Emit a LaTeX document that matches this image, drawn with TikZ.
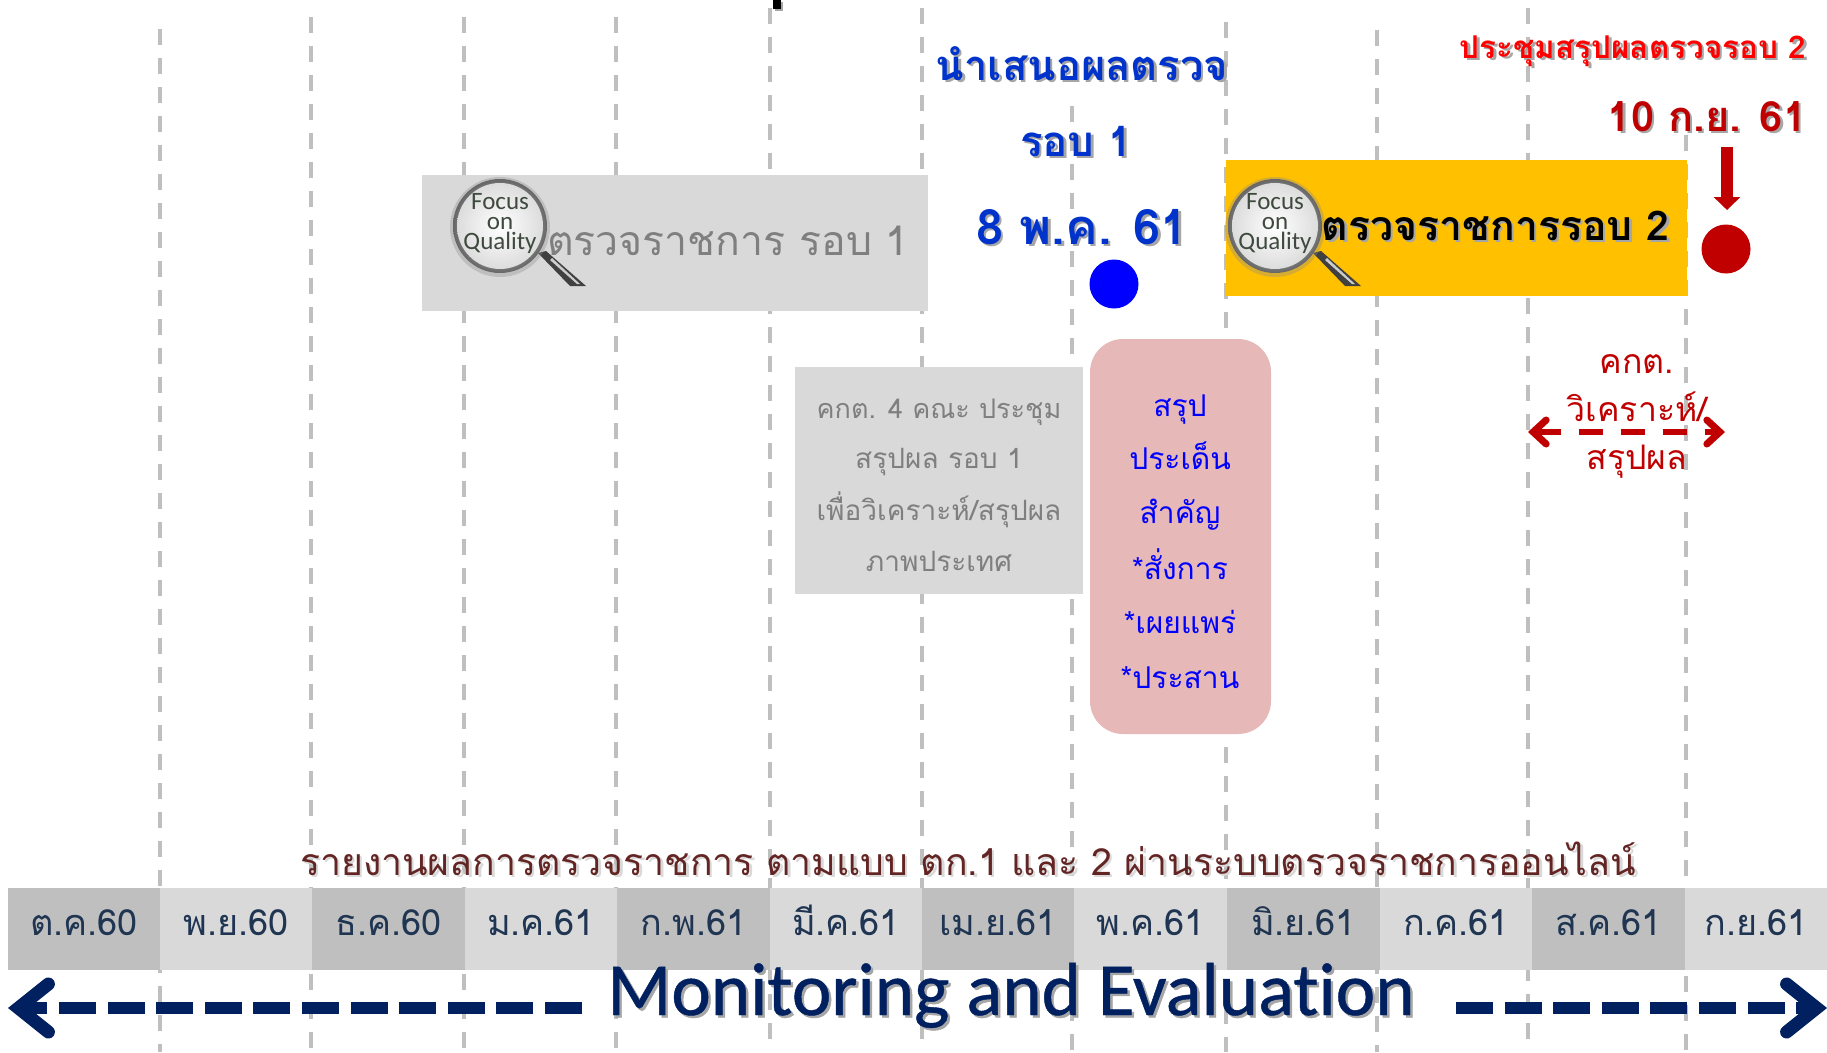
\documentclass[tikz,border=0pt]{standalone}
\usepackage{fontspec}
\usetikzlibrary{arrows.meta,shadings}
\newfontfamily\thaifont[Script=Thai]{Loma}
\newfontfamily\latinfont[Ligatures=NoCommon,FakeBold=0.6]{Carlito}
\newfontfamily\lensfont{Carlito}
\newcommand{\tsize}[1]{\thaifont\fontsize{#1}{#1}\selectfont}
\newcommand{\softshadow}[2][black!35]{\leavevmode\rlap{\kern2.5pt\raisebox{-2.5pt}{\textcolor{#1}{#2}}}#2}
\definecolor{bandDark}{HTML}{BFBFBF}
\definecolor{bandLight}{HTML}{D9D9D9}
\definecolor{boxGold}{HTML}{FFC000}
\definecolor{boxPink}{HTML}{E6B8B7}
\definecolor{deepRed}{HTML}{C00000}
\definecolor{titleBlue}{HTML}{0033CC}
\definecolor{navy}{HTML}{002060}
\definecolor{monthInk}{HTML}{1F3552}
\definecolor{reportBrown}{HTML}{632523}
\definecolor{boxInk}{HTML}{7F7F7F}
\definecolor{lensInk}{HTML}{3F4A3F}
\tikzset{
    gridline/.style={draw=bandDark, line width=4.5pt, dash pattern=on 16pt off 13pt},
    monthdark/.style={fill=bandDark, text=monthInk, minimum height=82pt, inner sep=0pt, text height=13pt, text depth=0pt, font=\tsize{36}},
    monthlight/.style={monthdark, fill=bandLight},
    dot/.style={circle, inner sep=0pt, minimum size=49pt},
    linetext/.style={inner sep=0pt, anchor=base},
    notetext/.style={linetext, text=boxInk, font=\tsize{28}},
    pinktext/.style={linetext, text=blue, font=\tsize{30}},
    redtext/.style={linetext, text=deepRed, font=\tsize{33.8}},
    navyarrow/.style={draw=navy, line width=12pt, dash pattern=on 37pt off 11.6pt,
        -{Straight Barb[length=30pt,width=48pt,line cap=round,line width=13pt]}},
    redarrow/.style={draw=deepRed, line width=6pt, dash pattern=on 24pt off 18pt,
        {Straight Barb[length=13pt,width=24pt,line cap=round,line width=7pt]}-{Straight Barb[length=13pt,width=24pt,line cap=round,line width=7pt]}},
    focuslens/.pic={
        \fill[black!75] (38,27) -- (46,25) -- (86,60) -- (70,60) -- cycle;
        \fill[black!20] (50,34) -- (52,32) -- (80,58) -- (77,58) -- cycle;
        \fill[black!45, opacity=0.35] (0,1) circle[radius=50];
        \shade[inner color=white, outer color=black!60] (0,0) circle[radius=47];
        \shade[inner color=white, outer color=green!4!black!14] (0,0) circle[radius=43];
        \node[inner sep=0pt, align=center, text=lensInk, font=\lensfont\fontsize{25}{20}\selectfont] (-label) at (0,-3) {Focus\\on\\Quality};
    }
}
\begin{document}
\begin{tikzpicture}[x=1pt, y=-1pt]
    \useasboundingbox (0,0) rectangle (1827,1052);
    % month guides
    \draw[gridline] (160,29) -- (160,1052);
    \draw[gridline] (311,17) -- (311,1052);
    \draw[gridline] (464,17) -- (464,1052);
    \draw[gridline] (616,17) -- (616,1052);
    \draw[gridline] (770,8) -- (770,1052);
    \draw[gridline] (922,8) -- (922,1052);
    \draw[gridline] (1072,106) -- (1072,1052);
    \draw[gridline] (1226,22) -- (1226,1052);
    \draw[gridline] (1377,30) -- (1377,1052);
    \draw[gridline] (1528,8) -- (1528,1052);
    \draw[gridline] (1686,135) -- (1686,1052);
    \fill[black!35] (775,2) rectangle (783,11);
    \fill[black] (773,0) rectangle (781,9);

    % month band
    \node[monthdark, minimum width=152pt] (oct) at (84,929) {ต.ค.60};
    \node[monthlight, minimum width=152pt] (nov) at (236,929) {พ.ย.60};
    \node[monthdark, minimum width=153pt] (dec) at (388.5,929) {ธ.ค.60};
    \node[monthlight, minimum width=152pt] (jan) at (541,929) {ม.ค.61};
    \node[monthdark, minimum width=153pt] (feb) at (693.5,929) {ก.พ.61};
    \node[monthlight, minimum width=152pt] (mar) at (846,929) {มี.ค.61};
    \node[monthdark, minimum width=152pt] (apr) at (998,929) {เม.ย.61};
    \node[monthlight, minimum width=153pt] (may) at (1150.5,929) {พ.ค.61};
    \node[monthdark, minimum width=153pt] (jun) at (1303.5,929) {มิ.ย.61};
    \node[monthlight, minimum width=152pt] (jul) at (1456,929) {ก.ค.61};
    \node[monthdark, minimum width=153pt] (aug) at (1608.5,929) {ส.ค.61};
    \node[monthlight, minimum width=142pt] (sep) at (1756,929) {ก.ย.61};

    % round one
    \node[fill=bandLight, minimum width=506pt, minimum height=136pt, inner sep=0pt] (roundone) at (675,243) {};
    \pic (lensone) at (500,226) {focuslens};
    \node[linetext, text=boxInk, font=\tsize{41}] (roundonetext) at (728,255) {ตรวจราชการ รอบ 1};
    \node[linetext, text=titleBlue, font=\bfseries\tsize{41.7}] (present) at (1082,80) {\softshadow{นำเสนอผลตรวจ}};
    \node[linetext, text=titleBlue, font=\bfseries\tsize{42}] (presentround) at (1076,156) {\softshadow{รอบ 1}};
    \node[linetext, text=titleBlue, font=\bfseries\tsize{48.8}] (presentdate) at (1082,244) {\softshadow{8 พ.ค. 61}};
    \node[dot, fill=blue] (bluedot) at (1114,284) {};
    \node[fill=bandLight, minimum width=288pt, minimum height=227pt, inner sep=0pt] (notebox) at (939,480.5) {};
    \node[notetext, font=\tsize{27}] (noteone) at (939,418) {คกต. 4 คณะ ประชุม};
    \node[notetext] (notetwo) at (939,468) {สรุปผล รอบ 1};
    \node[notetext] (notethree) at (939,520) {เพื่อวิเคราะห์/สรุปผล};
    \node[notetext] (notefour) at (939,571) {ภาพประเทศ};
    \node[fill=boxPink, rounded corners=33pt, minimum width=181pt, minimum height=395pt, inner sep=0pt] (pinkbox) at (1180.5,536.5) {};
    \node[pinktext] (pinkone) at (1180,416) {สรุป};
    \node[pinktext] (pinktwo) at (1180,469) {ประเด็น};
    \node[pinktext] (pinkthree) at (1180,523) {สำคัญ};
    \node[pinktext] (pinkfour) at (1180,579) {*สั่งการ};
    \node[pinktext] (pinkfive) at (1180,633) {*เผยแพร่};
    \node[pinktext] (pinksix) at (1180,688) {*ประสาน};

    % round two
    \node[fill=boxGold, minimum width=461pt, minimum height=136pt, inner sep=0pt] (roundtwo) at (1456.5,228) {};
    \pic (lenstwo) at (1275,226) {focuslens};
    \node[linetext, text=black, font=\bfseries\tsize{41}] (roundtwotext) at (1495.5,240) {\softshadow{ตรวจราชการรอบ 2}};
    \node[linetext, text=red, font=\bfseries\tsize{31.4}] (meeting) at (1633,58) {\softshadow{ประชุมสรุปผลตรวจรอบ 2}};
    \node[linetext, text=deepRed, font=\bfseries\tsize{41.7}] (meetingdate) at (1707,131) {\softshadow{10 ก.ย. 61}};
    \coordinate (dropstart) at (1727,147);
    \node[dot, fill=deepRed] (reddot) at (1726,249) {};
    \coordinate (dropend) at (1727,210);
    \draw[draw=deepRed, line width=12pt, -{Triangle[length=13pt,width=26pt]}] (dropstart) -- (dropend);
    \node[redtext] (redone) at (1637,373) {คกต.};
    \node[redtext] (redtwo) at (1637,421) {วิเคราะห์/};
    \node[redtext] (redthree) at (1637,469) {สรุปผล};
    \coordinate (spanleft) at (1528,432);
    \coordinate (spanright) at (1725,432);
    \draw[redarrow] (spanleft) -- (spanright);

    % report line and bottom band
    \node[linetext, text=reportBrown, font=\tsize{37.4}] (report) at (968,875) {\softshadow[black!15]{รายงานผลการตรวจราชการ ตามแบบ ตก.1 และ 2 ผ่านระบบตรวจราชการออนไลน์}};
    \node[linetext, text=navy, font=\latinfont\fontsize{75}{75}\selectfont] (monitor) at (1011,1015) {\softshadow{Monitoring and Evaluation}};
    \coordinate (leftstart) at (582,1008);
    \coordinate (lefttip) at (8,1008);
    \coordinate (rightstart) at (1456,1008);
    \coordinate (righttip) at (1827,1008);
    \draw[navyarrow] (leftstart) -- (lefttip);
    \draw[navyarrow] (rightstart) -- (righttip);
\end{tikzpicture}
\end{document}
